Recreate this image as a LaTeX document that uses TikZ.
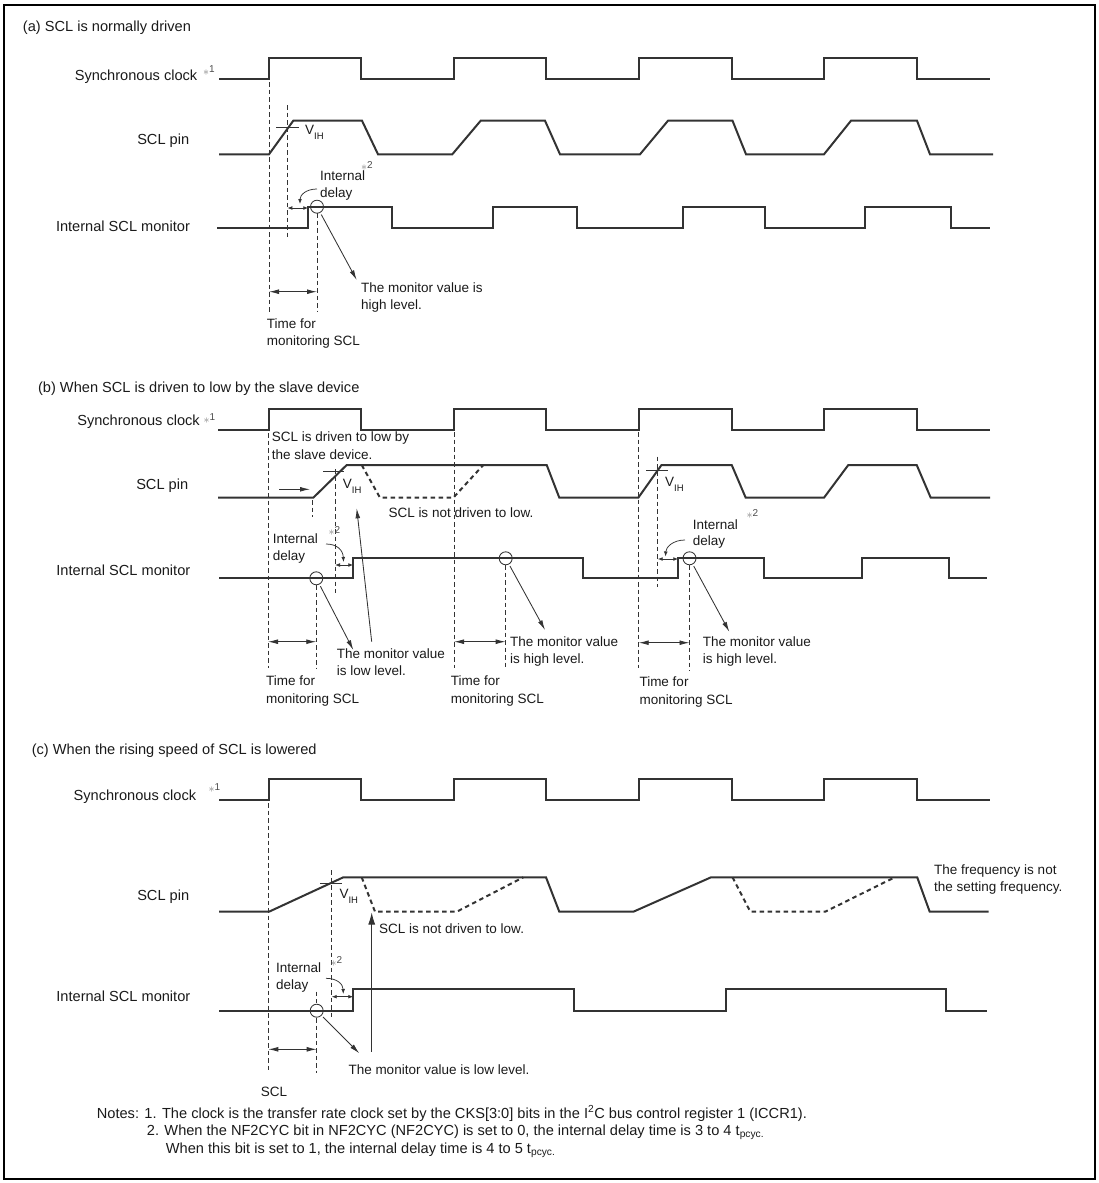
\documentclass[tikz,border=0pt]{standalone}
\usepackage{fontspec}
\setmainfont{Liberation Sans}
\usetikzlibrary{arrows.meta}
\definecolor{sigc}{HTML}{333333}
\definecolor{txtc}{HTML}{1A1A1A}
\newcommand\clockwave[3]{\draw[sig] (#1,#3) -| (269,#2) -| (361,#3) -| (454,#2) -| (546,#3) -| (639,#2) -| (732,#3) -| (824,#2) -| (917,#3) -- (990,#3);}
\newcommand\vih{V\raisebox{-5pt}{\fontsize{9.5}{10}\selectfont IH}}
\newcommand\stx[1]{\textcolor{black!50}{\fontsize{13}{13}\selectfont$\ast$}\raisebox{2.5pt}{\textcolor{black!70}{#1}}}
\tikzset{
  sig/.style={line width=2pt, draw=sigc, line join=miter},
  sigd/.style={sig, dash pattern=on 4.5pt off 3.5pt},
  guide/.style={line width=0.75pt, draw=sigc, dash pattern=on 4.5pt off 3pt},
  arr/.style={line width=0.85pt, draw=sigc, -{Latex[length=10pt,width=4.8pt]}},
  bigarr/.style={line width=0.85pt, draw=sigc, -{Latex[length=12pt,width=7pt]}},
  tarr/.style={line width=0.85pt, draw=sigc, {Latex[length=10pt,width=4.8pt]}-{Latex[length=10pt,width=4.8pt]}},
  sarr/.style={line width=0.85pt, draw=sigc, {Latex[length=5pt,width=3.8pt]}-{Latex[length=5pt,width=3.8pt]}},
  carr/.style={line width=0.75pt, draw=sigc, -{Latex[length=5pt,width=3.8pt]}},
  tick/.style={line width=0.85pt, draw=sigc},
  mon/.style={circle, draw=sigc, line width=0.85pt, minimum size=13pt, inner sep=0pt},
  lbl/.style={inner sep=0pt, font=\fontsize{14.6}{16}\selectfont, text=txtc},
  ann/.style={inner sep=0pt, font=\fontsize{13.5}{15}\selectfont, text=txtc},
  star/.style={inner sep=0pt, font=\fontsize{10}{11}\selectfont},
}
\begin{document}
\begin{tikzpicture}[x=1pt,y=-1pt]
\useasboundingbox (0,0) rectangle (1099,1183);
\draw[line width=1.8pt] (4,5) rectangle (1095,1179);

% ================= (a) =================
\node[lbl,anchor=mid west] (ta) at (22.8,29.3) {(a) SCL is normally driven};
\node[lbl,anchor=mid east] (la1) at (197.5,78.3) {Synchronous clock};
\node[star,anchor=mid west] (sa1) at (203,72.5) {\stx{1}};
\node[lbl,anchor=mid east] (la2) at (189.4,141.7) {SCL pin};
\node[lbl,anchor=mid east] (la3) at (190.1,229.3) {Internal SCL monitor};
\clockwave{219}{58.3}{79.3}
\draw[sig] (219,154.3) -- (269,154.3) -- (293.3,120.7) -- (362,120.7) -- (378,154.3) -- (452.3,154.3) -- (480.7,120.7) -- (545,120.7) -- (560,154.3) -- (640,154.3) -- (668,120.7) -- (732.5,120.7) -- (746,154.3) -- (824,154.3) -- (851,120.7) -- (917,120.7) -- (930,154.3) -- (993,154.3);
\draw[sig] (217,227.5) -| (308.3,206.7) -| (391.7,227.5) -| (493.3,206.7) -| (576.7,227.5) -| (682.5,206.7) -| (765.3,227.5) -| (865,206.7) -| (951,227.5) -- (990,227.5);
\draw[guide] (269,82) -- (269,311.7);
\draw[guide] (287.3,105) -- (287.3,236.7);
\draw[guide] (317,213) -- (317,311.7);
\draw[tick] (276,127.7) -- (299,127.7);
\node[ann,anchor=mid west] (va) at (305,131.5) {\vih};
\node[mon] (ca) at (317,206.7) {};
\coordinate (sa_l) at (287.3,208); \coordinate (sa_r) at (308.3,208);
\draw[sarr] (sa_l) -- (sa_r);
\coordinate (cva) at (317,189); \coordinate (cve) at (300,204);
\draw[carr] (cva) .. controls (306,189) and (300,195) .. (cve);
\node[ann,anchor=mid west] (ia1) at (320,178.3) {Internal};
\node[ann,anchor=mid west] (da1) at (320,195) {delay};
\node[star,anchor=mid west] (s2a) at (361,168) {\stx{2}};
\coordinate (ea) at (356.7,280);
\draw[arr,shorten <=2pt] (ca) -- (ea);
\node[ann,anchor=mid west] (ma1) at (361,290) {The monitor value is};
\node[ann,anchor=mid west] (ma2) at (361,306.7) {high level.};
\coordinate (tal) at (269,291.7); \coordinate (tar) at (317,291.7);
\draw[tarr] (tal) -- (tar);
\node[ann,anchor=mid west] (tfa1) at (266.7,326) {Time for};
\node[ann,anchor=mid west] (tfa2) at (266.7,343.3) {monitoring SCL};

% ================= (b) =================
\node[lbl,anchor=mid west] (tb) at (37.9,390) {(b) When SCL is driven to low by the slave device};
\node[lbl,anchor=mid east] (lb1) at (200,422.7) {Synchronous clock};
\node[star,anchor=mid west] (sb1) at (203.5,420.5) {\stx{1}};
\node[lbl,anchor=mid east] (lb2) at (188.4,486.7) {SCL pin};
\node[lbl,anchor=mid east] (lb3) at (190.5,573.3) {Internal SCL monitor};
\clockwave{218}{409.3}{430}
\draw[sig] (218,497.7) -- (313.3,497.7) -- (346.7,465) -- (546.7,465) -- (559.3,497.7) -- (638.3,497.7) -- (661.5,465) -- (731.7,465) -- (745.7,497.7) -- (824,497.7) -- (848.3,465) -- (916.7,465) -- (930.7,497.7) -- (990,497.7);
\draw[sigd] (361.7,465) -- (380,497.7) -- (453.3,497.7) -- (483.3,465);
\draw[sig] (219,578.3) -| (353.3,558.3) -| (583.3,578.3) -| (678.3,558.3) -| (764,578.3) -| (861.7,558.3) -| (949.3,578.3) -- (986.7,578.3);
\draw[guide] (268,433) -- (268,668.3);
\draw[guide] (312.7,500) -- (312.7,517);
\draw[guide] (316.3,585) -- (316.3,668);
\draw[guide] (335,469) -- (335,593.3);
\draw[guide] (454,432) -- (454,668);
\draw[guide] (505.7,565) -- (505.7,668);
\draw[guide] (638.7,432) -- (638.7,668);
\draw[guide] (657.5,456.7) -- (657.5,586.7);
\draw[guide] (689.5,565) -- (689.5,671);
\node[ann,anchor=mid west] (sd1) at (271.7,439.3) {SCL is driven to low by};
\node[ann,anchor=mid west] (sd2) at (271.7,456.7) {the slave device.};
\coordinate (ra1) at (279,489.3); \coordinate (ra2) at (310,489.3);
\draw[arr] (ra1) -- (ra2);
\draw[tick] (323,471.7) -- (344,471.7);
\node[ann,anchor=mid west] (vb1) at (342.7,485.5) {\vih};
\draw[tick] (646,470) -- (668.3,470);
\node[ann,anchor=mid west] (vb2) at (665,484) {\vih};
\node[ann,anchor=mid west] (nd1) at (388.3,515) {SCL is not driven to low.};
\node[mon] (cb1) at (316.3,578.3) {};
\node[mon] (cb2) at (505.7,558.3) {};
\node[mon] (cb3) at (689.5,558.3) {};
\coordinate (sb1l) at (335,565); \coordinate (sb1r) at (353.3,565);
\draw[sarr] (sb1l) -- (sb1r);
\coordinate (sb2l) at (657.7,559); \coordinate (sb2r) at (678.3,559);
\draw[sarr] (sb2l) -- (sb2r);
\coordinate (cvb1) at (326,544); \coordinate (cvb1e) at (343.5,562);
\draw[carr] (cvb1) .. controls (337,544) and (343,550) .. (cvb1e);
\coordinate (cvb2) at (685,540); \coordinate (cvb2e) at (665.5,556.5);
\draw[carr] (cvb2) .. controls (673,540) and (666,547) .. (cvb2e);
\node[ann,anchor=mid west] (ib1) at (272.7,541) {Internal};
\node[ann,anchor=mid west] (db1) at (272.7,557.7) {delay};
\node[star,anchor=mid west] (s2b1) at (328.5,533.3) {\stx{2}};
\node[ann,anchor=mid west] (ib2) at (692.7,526.7) {Internal};
\node[ann,anchor=mid west] (db2) at (692.7,543.3) {delay};
\node[star,anchor=mid west] (s2b2) at (746.5,516) {\stx{2}};
\coordinate (eb1) at (353.3,650);
\draw[arr,shorten <=2pt] (cb1) -- (eb1);
\coordinate (ub0) at (371.7,641.7); \coordinate (ub1) at (356.7,508.3);
\draw[arr] (ub0) -- (ub1);
\coordinate (eb2) at (545,630);
\draw[arr,shorten <=2pt] (cb2) -- (eb2);
\coordinate (eb3) at (729.3,631.7);
\draw[arr,shorten <=2pt] (cb3) -- (eb3);
\coordinate (tb1l) at (268,641.7); \coordinate (tb1r) at (316.3,641.7);
\draw[tarr] (tb1l) -- (tb1r);
\coordinate (tb2l) at (454,641.7); \coordinate (tb2r) at (505.7,641.7);
\draw[tarr] (tb2l) -- (tb2r);
\coordinate (tb3l) at (638.7,642.7); \coordinate (tb3r) at (689.5,642.7);
\draw[tarr] (tb3l) -- (tb3r);
\node[ann,anchor=mid west] (mb11) at (336.7,656) {The monitor value};
\node[ann,anchor=mid west] (mb12) at (336.7,673.3) {is low level.};
\node[ann,anchor=mid west] (mb21) at (510,644.3) {The monitor value};
\node[ann,anchor=mid west] (mb22) at (510,660.7) {is high level.};
\node[ann,anchor=mid west] (mb31) at (702.7,644.3) {The monitor value};
\node[ann,anchor=mid west] (mb32) at (702.7,661) {is high level.};
\node[ann,anchor=mid west] (tfb11) at (266,683.3) {Time for};
\node[ann,anchor=mid west] (tfb12) at (266,700.7) {monitoring SCL};
\node[ann,anchor=mid west] (tfb21) at (450.7,683.3) {Time for};
\node[ann,anchor=mid west] (tfb22) at (450.7,700.7) {monitoring SCL};
\node[ann,anchor=mid west] (tfb31) at (639.3,684) {Time for};
\node[ann,anchor=mid west] (tfb32) at (639.3,701.7) {monitoring SCL};

% ================= (c) =================
\node[lbl,anchor=mid west] (tc) at (31.6,751.7) {(c) When the rising speed of SCL is lowered};
\node[lbl,anchor=mid east] (lc1) at (196.4,798.3) {Synchronous clock};
\node[star,anchor=mid west] (sc1) at (208.5,790.3) {\stx{1}};
\node[lbl,anchor=mid east] (lc2) at (189.4,898.3) {SCL pin};
\node[lbl,anchor=mid east] (lc3) at (190.5,999.3) {Internal SCL monitor};
\clockwave{219}{779}{800}
\draw[sig] (219,911.7) -- (269,911.7) -- (343.3,877.3) -- (546,877.3) -- (559.3,911.7) -- (633.4,911.7) -- (711,877.3) -- (917.2,877.3) -- (929.7,911.7) -- (988.5,911.7);
\draw[sigd] (361.7,877.3) -- (375,911.7) -- (456.7,911.7) -- (523.3,877.3);
\draw[sigd] (732.5,877.3) -- (750.3,911.7) -- (825.2,911.7) -- (894.7,877.3);
\draw[sig] (219,1010.7) -| (353.3,989.3) -| (574,1010.7) -| (726,989.3) -| (946.4,1010.7) -- (987.4,1010.7);
\draw[guide] (268,803) -- (268,1073);
\draw[guide] (331,870) -- (331,1018.3);
\draw[guide] (316.7,991.7) -- (316.7,1003);
\draw[guide] (316.7,1018) -- (316.7,1073);
\draw[tick] (320,883.3) -- (341.7,883.3);
\node[ann,anchor=mid west] (vc) at (339.3,896) {\vih};
\node[ann,anchor=mid west] (ndc) at (379,930.7) {SCL is not driven to low.};
\node[ann,anchor=mid west] (fq1) at (934,871.7) {The frequency is not};
\node[ann,anchor=mid west] (fq2) at (934,889) {the setting frequency.};
\node[mon] (cc) at (316.7,1010.7) {};
\coordinate (scl) at (331.7,996.7); \coordinate (scr) at (353.3,996.7);
\draw[sarr] (scl) -- (scr);
\coordinate (cvc) at (326,978.3); \coordinate (cvce) at (343.3,994);
\draw[carr] (cvc) .. controls (337,978.3) and (343,984) .. (cvce);
\node[ann,anchor=mid west] (ic) at (276,970) {Internal};
\node[ann,anchor=mid west] (dc) at (276,986.7) {delay};
\node[star,anchor=mid west] (s2c) at (330.5,963.7) {\stx{2}};
\coordinate (ec) at (359.3,1053.3);
\draw[arr,shorten <=2pt] (cc) -- (ec);
\coordinate (uc0) at (371.7,1051.7); \coordinate (uc1) at (371.7,912.5);
\draw[bigarr] (uc0) -- (uc1);
\coordinate (tcl) at (268.3,1049.3); \coordinate (tcr) at (316.7,1049.3);
\draw[tarr] (tcl) -- (tcr);
\node[ann,anchor=mid west] (mc) at (348.3,1072) {The monitor value is low level.};
\node[ann,anchor=mid] (sclc) at (274,1094) {SCL};

% ================= notes =================
\node[lbl,anchor=mid west] (n1) at (96.7,1115.5) {Notes: 1. The clock is the transfer rate clock set by the CKS[3:0] bits in the I\textsuperscript{2}C bus control register 1 (ICCR1).};
\node[lbl,anchor=mid west] (n2) at (146.7,1133) {2. When the NF2CYC bit in NF2CYC (NF2CYC) is set to 0, the internal delay time is 3 to 4 t\textsubscript{pcyc.}};
\node[lbl,anchor=mid west] (n3) at (165.7,1150.5) {When this bit is set to 1, the internal delay time is 4 to 5 t\textsubscript{pcyc.}};
\end{tikzpicture}
\end{document}
